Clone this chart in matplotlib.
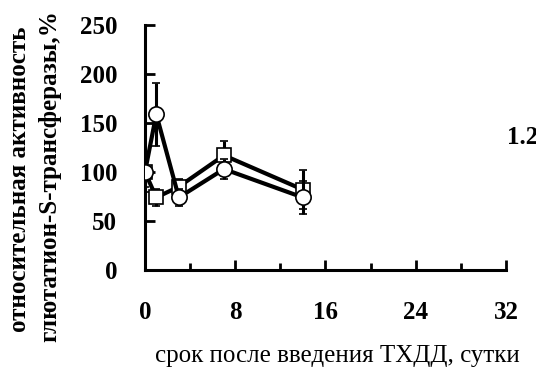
import matplotlib
matplotlib.use("Agg")
import matplotlib.pyplot as plt
from matplotlib.ticker import MultipleLocator

days = [0, 1, 3, 7, 14]
square_vals = [100, 74, 85, 117, 82]
square_err = [20, 9, 8, 15, 20]
circle_vals = [100, 159, 74, 103, 74]
circle_err = [15, 32, 9, 10, 17]

xticks = [0, 8, 16, 24, 32]
yticks = [0, 50, 100, 150, 200, 250]

plt.rcParams['font.family'] = ['Liberation Serif', 'DejaVu Serif']

fig = plt.figure(figsize=(5.36, 3.79), dpi=100)
ax = fig.add_axes([0.2705, 0.2876, 0.944 - 0.2705, 0.934 - 0.2876])

ax.errorbar(days, square_vals, yerr=square_err, color='black', lw=3,
            marker='s', ms=10.5, mfc='white', mec='black', mew=1.2,
            elinewidth=2.2, capsize=3, capthick=2.5, zorder=3)
ax.errorbar(days, circle_vals, yerr=circle_err, color='black', lw=3,
            marker='o', ms=11, mfc='white', mec='black', mew=1.2,
            elinewidth=2.2, capsize=3, capthick=2.5, zorder=4)

ax.set_xlim(0, 32)
ax.set_ylim(0, 250)
ax.set_xticks(xticks)
ax.set_yticks(yticks)
ax.xaxis.set_minor_locator(MultipleLocator(4))
for s in ['top', 'right']:
    ax.spines[s].set_visible(False)
for s in ['left', 'bottom']:
    ax.spines[s].set_linewidth(2.2)
ax.tick_params(axis='both', which='major', direction='in', length=7, width=2,
               labelsize=18)
ax.tick_params(axis='x', which='minor', direction='in', length=5, width=2)
ax.tick_params(axis='x', pad=22)
ax.tick_params(axis='y', pad=20)
for lab in ax.get_xticklabels() + ax.get_yticklabels():
    lab.set_fontweight('bold')

ax.set_xlabel('срок после введения ТХДД, сутки', fontsize=18)
ax.xaxis.set_label_coords(0.532, -0.305)

fig.text(0.037, 0.527, 'относительная активность', rotation=90, fontsize=18,
         fontweight='bold', ha='center', va='center')
fig.text(0.093, 0.536, 'глютатион-S-трансферазы,%', rotation=90, fontsize=18,
         fontweight='bold', ha='center', va='center')
fig.text(0.946, 0.638, '1.2', fontsize=18, fontweight='bold', ha='left', va='center')

fig.savefig('out.png', dpi=100)
